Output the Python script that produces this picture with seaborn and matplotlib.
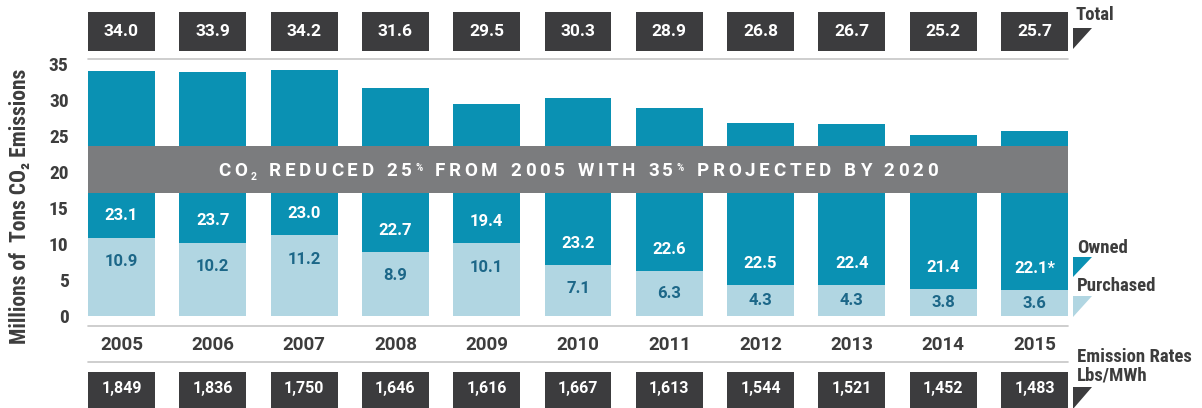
import matplotlib
matplotlib.use("Agg")
import matplotlib.pyplot as plt
import matplotlib.transforms as mtransforms
from matplotlib import font_manager
from matplotlib.patches import Polygon, Rectangle
from matplotlib.lines import Line2D
import pandas as pd
import seaborn as sns

# ---- data -------------------------------------------------------------
years = [2005, 2006, 2007, 2008, 2009, 2010, 2011, 2012, 2013, 2014, 2015]
totals = [34.0, 33.9, 34.2, 31.6, 29.5, 30.3, 28.9, 26.8, 26.7, 25.2, 25.7]
owned = [23.1, 23.7, 23.0, 22.7, 19.4, 23.2, 22.6, 22.5, 22.4, 21.4, 22.1]
purchased = [10.9, 10.2, 11.2, 8.9, 10.1, 7.1, 6.3, 4.3, 4.3, 3.8, 3.6]
owned_notes = ["", "", "", "", "", "", "", "", "", "", "*"]
emission_rates = [1849, 1836, 1750, 1646, 1616, 1667, 1613, 1544, 1521, 1452, 1483]
y_ticks = [0, 5, 10, 15, 20, 25, 30, 35]
banner_text = "CO\u2082 REDUCED 25% FROM 2005 WITH 35% PROJECTED BY 2020"

# ---- style ------------------------------------------------------------
TEAL = "#0a91b3"
LIGHT = "#b1d6e2"
DARK = "#3c3c3e"
BANNER = "#7b7c7e"
RULE = "#c6c6c6"
TEXT = "#3d3d3d"
PURCH_TEXT = "#1c6788"

sns.set_theme(style="white")
plt.rcParams["font.family"] = ["Roboto", "DejaVu Sans"]

# pick a narrow face for the axis title, ticks and key
_installed = font_manager.fontManager.ttflist
_names = {f.name for f in _installed}
NARROW_STRETCH = "normal"
NARROW = None
for cand in ["Liberation Sans Narrow", "Roboto Condensed", "DejaVu Sans Condensed",
             "Noto Sans Condensed", "Open Sans Condensed", "Noto Sans SemiCondensed"]:
    if cand in _names:
        NARROW = [cand, "DejaVu Sans"]
        break
if NARROW is None:
    for fam in ["Roboto", "Noto Sans", "Open Sans", "DejaVu Sans", "Liberation Sans"]:
        if any(f.name == fam and str(f.stretch) in ("condensed", "semi-condensed", "extra-condensed")
               for f in _installed):
            NARROW = [fam, "DejaVu Sans"]
            NARROW_STRETCH = "condensed"
            break
if NARROW is None:
    NARROW = ["Roboto", "DejaVu Sans"]

W, H = 1202, 408
fig = plt.figure(figsize=(W / 100, H / 100), dpi=100)
fig.patch.set_facecolor("white")


def fx(x):
    return x / W


def fy(y):
    return 1 - y / H


PX_PER_UNIT = 7.2
LEFT, RIGHT = 88, 1068
BASE, TOP = 316, 62
BAR_W = 0.733
n = len(years)

# ---- stacked bars -----------------------------------------------------
ax = fig.add_axes([fx(LEFT), fy(BASE), (RIGHT - LEFT) / W, (BASE - TOP) / H])
df = pd.DataFrame({"year": [str(y) for y in years],
                   "total": totals, "purchased": purchased})
sns.barplot(data=df, x="year", y="total", color=TEAL, saturation=1,
            width=BAR_W, linewidth=0, ax=ax)
sns.barplot(data=df, x="year", y="purchased", color=LIGHT, saturation=1,
            width=BAR_W, linewidth=0, ax=ax)
ax.set_xlim(-BAR_W / 2, n - 1 + BAR_W / 2)
ax.set_ylim(0, (BASE - TOP) / PX_PER_UNIT)
ax.set_xticks([])
ax.set_yticks(y_ticks)
ax.set_yticklabels([str(t) for t in y_ticks], family=NARROW,
                   fontstretch=NARROW_STRETCH, fontweight="bold",
                   fontsize=14, color=TEXT)
ax.tick_params(axis="y", length=0, pad=14)
ax.set_xlabel("")
ax.set_ylabel("")
ax.set_facecolor("none")
sns.despine(ax=ax, left=True, bottom=True)

# segment value labels
for i, (o, p) in enumerate(zip(owned, purchased)):
    ax.text(i, p + 3.0, f"{o:.1f}{owned_notes[i]}", ha="center", va="center",
            color="white", fontsize=12, fontweight="bold")
    ax.text(i, max(p / 2, p - 3.33), f"{p:.1f}", ha="center", va="center",
            color=PURCH_TEXT, fontsize=12, fontweight="bold")

# ---- banner across the bars -------------------------------------------
fig.add_artist(Rectangle((fx(LEFT), fy(193)), (RIGHT - LEFT) / W, 47 / H,
                         transform=fig.transFigure, facecolor=BANNER,
                         edgecolor="none", zorder=2))

pieces = []
for ch in banner_text:
    if ch == "\u2082":
        pieces.append(("2", 7.5, -4))
    elif ch == "%":
        pieces.append(("%", 7, 6))
    else:
        pieces.append((ch, 13.5, 0))

renderer = fig.canvas.get_renderer()
arts, widths = [], []
for ch, size, dy in pieces:
    t = fig.text(0, 0, ch, fontsize=size, fontweight="bold", color="white",
                 ha="left", va="baseline", zorder=3)
    arts.append(t)
    if ch == " ":
        widths.append(size * 100 / 72 * 0.28)
    else:
        widths.append(t.get_window_extent(renderer).width)
x0, x1, baseline = 218, 938, 176.5
tracking = (x1 - x0 - sum(widths)) / (len(pieces) - 1)
x = x0
for t, w, (ch, size, dy) in zip(arts, widths, pieces):
    t.set_position((fx(x), fy(baseline - dy)))
    x += w + tracking

# ---- total boxes along the top ----------------------------------------
ax_top = fig.add_axes([fx(LEFT), fy(51), (RIGHT - LEFT) / W, 39 / H])
ax_top.bar(range(n), [1] * n, width=BAR_W, color=DARK, linewidth=0)
ax_top.set_xlim(ax.get_xlim())
ax_top.set_ylim(0, 1)
ax_top.axis("off")
for i, v in enumerate(totals):
    ax_top.text(i, 0.5, f"{v:.1f}", ha="center", va="center", color="white",
                fontsize=12.5, fontweight="bold")

# ---- emission-rate boxes along the bottom -----------------------------
ax_bot = fig.add_axes([fx(LEFT), 0, (RIGHT - LEFT) / W, (H - 372) / H])
ax_bot.bar(range(n), [1] * n, width=BAR_W, color=DARK, linewidth=0)
ax_bot.set_xlim(ax.get_xlim())
ax_bot.set_ylim(0, 1)
ax_bot.axis("off")
for i, v in enumerate(emission_rates):
    ax_bot.text(i, (H - 389) / (H - 372), f"{v:,}", ha="center", va="center",
                color="white", fontsize=11.5, fontweight="bold")

# ---- rules and year labels --------------------------------------------
for yy in (59, 326, 362):
    fig.add_artist(Line2D([fx(LEFT), fx(RIGHT)], [fy(yy), fy(yy)],
                          color=RULE, lw=1.2, transform=fig.transFigure))

year_tr = mtransforms.blended_transform_factory(ax.transData, fig.transFigure)
for i, y in enumerate(years):
    fig.text(i, fy(344.5), str(y), transform=year_tr, ha="center",
             va="center", fontsize=13.5, fontweight="bold", color=TEXT)

# ---- axis title -------------------------------------------------------
fig.text(fx(20), fy(206), "Millions of  Tons CO\u2082 Emissions", rotation=90,
         ha="center", va="center", family=NARROW, fontstretch=NARROW_STRETCH,
         fontweight="bold", fontsize=15.5, color=TEXT)

# ---- key on the right -------------------------------------------------
def marker(y_top, y_bot, color):
    fig.add_artist(Polygon([[fx(1073), fy(y_top)], [fx(1092), fy(y_top)],
                            [fx(1073), fy(y_bot)]], closed=True,
                           transform=fig.transFigure, facecolor=color,
                           edgecolor="none"))


key_kw = dict(ha="left", va="center", family=NARROW, fontstretch=NARROW_STRETCH,
              fontweight="bold", fontsize=13.5, color=TEXT)
fig.text(fx(1076), fy(15), "Total", **key_kw)
marker(28, 49, DARK)
fig.text(fx(1077), fy(248), "Owned", **key_kw)
marker(257, 277, TEAL)
fig.text(fx(1077), fy(286), "Purchased", **key_kw)
marker(296, 317, LIGHT)
fig.text(fx(1077), fy(357), "Emission Rates", **key_kw)
fig.text(fx(1077), fy(375), "Lbs/MWh", **key_kw)
marker(387, 409, DARK)

fig.savefig("out.png", dpi=100, facecolor="white")
